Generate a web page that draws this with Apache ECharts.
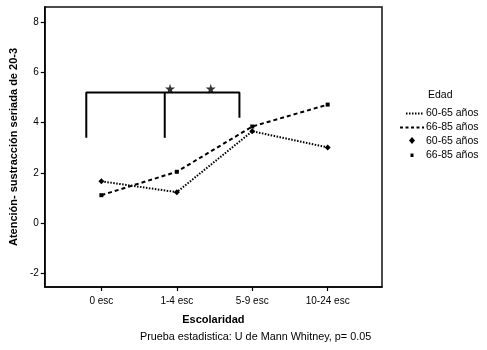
<!DOCTYPE html>
<html>
<head>
<meta charset="utf-8">
<script src="https://cdn.jsdelivr.net/npm/echarts@6/dist/echarts.min.js"></script>
<style>
  html, body { margin: 0; padding: 0; background: #fff; }
  #chart { width: 487px; height: 350px; }
</style>
</head>
<body>
<div id="chart"></div>
<script>
// Categories of schooling and mean scores per age group
const categories = ['0 esc', '1-4 esc', '5-9 esc', '10-24 esc'];
const edad6065 = [1.67, 1.24, 3.66, 3.02];
const edad6685 = [1.12, 2.05, 3.85, 4.72];
const yTicks = [-2, 0, 2, 4, 6, 8];

// Significance bracket (x in category units, y in score units)
const bracketOuter = [[-0.2, 3.4], [-0.2, 5.2], [1.83, 5.2], [1.83, 4.2]];
const bracketMiddle = [[0.84, 3.4], [0.84, 5.2]];
const stars = [[0.91, 5.35], [1.45, 5.35]];

const FONT = 'Liberation Sans, Arial, sans-serif';
const starPath = 'path://M50,0 L61,35 L98,35 L68,57 L79,91 L50,70 L21,91 L32,57 L2,35 L39,35 Z';

const toXY = arr => arr.map((v, i) => [i, v]);

const chart = echarts.init(document.getElementById('chart'), null, { renderer: 'canvas' });

chart.setOption({
  animation: false,
  backgroundColor: '#fff',
  grid: {
    left: 43, right: 105, top: 7, bottom: 63,
    show: true, borderColor: '#111', borderWidth: 1.5
  },
  xAxis: {
    type: 'value',
    min: -0.75, max: 3.72,
    name: 'Escolaridad',
    nameLocation: 'middle',
    nameGap: 27,
    nameTextStyle: { fontFamily: FONT, fontSize: 11, fontWeight: 'bold', color: '#000' },
    axisLine: { show: true, onZero: false, lineStyle: { color: '#000', width: 1.5 } },
    axisTick: { show: true, length: 4, customValues: [0, 1, 2, 3], lineStyle: { color: '#000', width: 1.2 } },
    axisLabel: {
      customValues: [0, 1, 2, 3],
      margin: 9,
      fontFamily: FONT, fontSize: 10, color: '#000',
      formatter: v => categories[Math.round(v)]
    },
    splitLine: { show: false }
  },
  yAxis: {
    type: 'value',
    min: -2.53, max: 8.6,
    name: 'Atención- sustracción seriada de 20-3',
    nameLocation: 'middle',
    nameGap: 14,
    nameTextStyle: { fontFamily: FONT, fontSize: 11, fontWeight: 'bold', color: '#000' },
    axisLine: { show: true, onZero: false, lineStyle: { color: '#000', width: 1.5 } },
    axisTick: { show: true, length: 4, customValues: yTicks, lineStyle: { color: '#000', width: 1.2 } },
    axisLabel: {
      customValues: yTicks,
      margin: 6,
      fontFamily: FONT, fontSize: 10, color: '#000'
    },
    splitLine: { show: false }
  },
  series: [
    {
      name: '60-65 años',
      type: 'line',
      data: toXY(edad6065),
      symbol: 'diamond',
      symbolSize: 6,
      showSymbol: true,
      itemStyle: { color: '#000' },
      lineStyle: { color: '#000', width: 2, type: [1.5, 1.5] },
      z: 3
    },
    {
      name: '66-85 años',
      type: 'line',
      data: toXY(edad6685),
      symbol: 'rect',
      symbolSize: 4,
      itemStyle: { color: '#000' },
      lineStyle: { color: '#000', width: 2, type: [4, 3] },
      z: 3
    },
    {
      type: 'line',
      data: bracketOuter,
      symbol: 'none',
      lineStyle: { color: '#000', width: 2 },
      z: 2
    },
    {
      type: 'line',
      data: bracketMiddle,
      symbol: 'none',
      lineStyle: { color: '#000', width: 2 },
      z: 2
    },
    {
      type: 'scatter',
      data: stars,
      symbol: starPath,
      symbolSize: 10,
      itemStyle: { color: '#000' },
      z: 4
    }
  ],
  graphic: [
    { type: 'text', left: 428, top: 90, style: { text: 'Edad', fontFamily: FONT, fontSize: 10.5, fill: '#000' } },
    // legend row 1: dotted line
    { type: 'line', shape: { x1: 406, y1: 113.5, x2: 424, y2: 113.5 }, style: { stroke: '#000', lineWidth: 2, lineDash: [1.5, 1.5] } },
    { type: 'text', left: 426, top: 108, style: { text: '60-65 años', fontFamily: FONT, fontSize: 10.5, fill: '#000' } },
    // legend row 2: dashed line
    { type: 'line', shape: { x1: 400, y1: 127.5, x2: 424, y2: 127.5 }, style: { stroke: '#000', lineWidth: 2, lineDash: [3, 2.5] } },
    { type: 'text', left: 426, top: 122, style: { text: '66-85 años', fontFamily: FONT, fontSize: 10.5, fill: '#000' } },
    // legend row 3: diamond marker
    { type: 'polygon', shape: { points: [[412, 137], [415, 140.5], [412, 144], [409, 140.5]] }, style: { fill: '#000' } },
    { type: 'text', left: 426, top: 135.5, style: { text: '60-65 años', fontFamily: FONT, fontSize: 10.5, fill: '#000' } },
    // legend row 4: small marker
    { type: 'rect', shape: { x: 410.5, y: 153.5, width: 3, height: 3.5 }, style: { fill: '#000' } },
    { type: 'text', left: 426, top: 150, style: { text: '66-85 años', fontFamily: FONT, fontSize: 10.5, fill: '#000' } },
    // footnote
    { type: 'text', left: 140, top: 332, style: { text: 'Prueba estadistica: U de Mann Whitney, p= 0.05', fontFamily: FONT, fontSize: 10.8, fill: '#000' } }
  ]
});
</script>
</body>
</html>
